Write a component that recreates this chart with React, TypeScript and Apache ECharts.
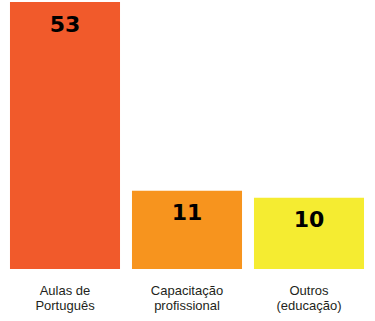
import React, { useEffect, useRef } from "react";
import * as echarts from "echarts";

const categories = ["Aulas de\nPortuguês", "Capacitação\nprofissional", "Outros\n(educação)"];
const values = [53, 11, 10];
const barColors = ["#F15A2B", "#F7941E", "#F5EC31"];

export default function App() {
  const ref = useRef<HTMLDivElement>(null);
  useEffect(() => {
    document.body.style.margin = "0";
    const chart = echarts.init(ref.current!, null, { renderer: "svg" });
    chart.setOption({
      animation: false,
      backgroundColor: "#ffffff",
      grid: { left: 4, right: 5, top: 2, bottom: 52, containLabel: false },
      xAxis: {
        type: "category",
        data: categories,
        axisLine: { show: false },
        axisTick: { show: false },
        axisLabel: {
          interval: 0,
          margin: 14,
          color: "#231F20",
          fontFamily: "Liberation Sans",
          fontSize: 13,
          lineHeight: 15,
        },
      },
      yAxis: {
        type: "value",
        min: 0,
        max: 37.5,
        show: false,
        splitLine: { show: false },
      },
      series: [
        {
          type: "bar",
          clip: true,
          barCategoryGap: "9.8%",
          data: values.map((v, i) => ({ value: v, itemStyle: { color: barColors[i] } })),
          label: {
            show: true,
            position: "insideTop",
            distance: 11,
            color: "#000000",
            fontFamily: "DejaVu Sans",
            fontWeight: "bold",
            fontSize: 22,
          },
        },
      ],
    });
    return () => chart.dispose();
  }, []);
  return <div ref={ref} style={{ position: "fixed", left: 0, top: 0, width: 375, height: 321 }} />;
}
